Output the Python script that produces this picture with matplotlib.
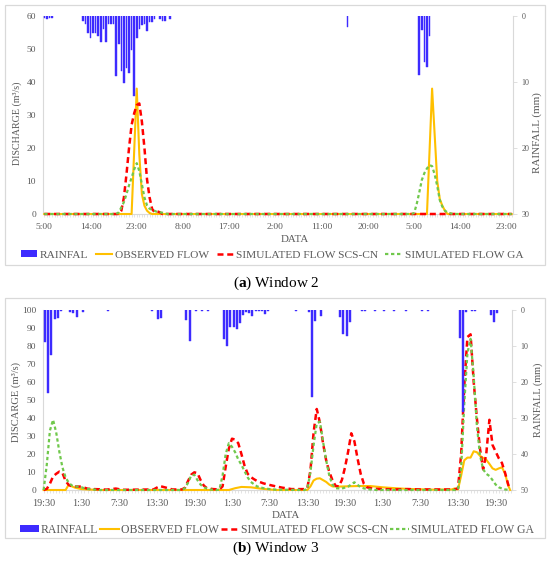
import matplotlib
matplotlib.use('Agg')
import matplotlib.pyplot as plt
from matplotlib.patches import Rectangle, Patch
from matplotlib.lines import Line2D
from matplotlib.ticker import MultipleLocator

plt.rcParams['font.family'] = ['Liberation Serif', 'DejaVu Serif']
plt.rcParams['mathtext.fontset'] = 'custom'
plt.rcParams['mathtext.rm'] = 'Liberation Serif'
plt.rcParams['mathtext.bf'] = 'Liberation Serif:bold'

# ---------------- Window 2 (hours after 5:00 of day 1) ----------------
ticks_a = [0, 9, 18, 27, 36, 45, 54, 63, 72, 81, 90]
labels_a = ['5:00', '14:00', '23:00', '8:00', '17:00', '2:00', '11:00',
            '20:00', '5:00', '14:00', '23:00']

rain_a_t = [0.0, 0.5, 1.0, 1.5,
            7.5, 8.0, 8.5, 9.0, 9.5, 10.0, 10.5, 11.0, 11.5, 12.0, 12.5,
            13.0, 13.5, 14.0, 14.5, 15.0, 15.5, 16.0, 16.5, 17.0, 17.5,
            18.0, 18.5, 19.0, 19.5, 20.0, 20.5, 21.0, 21.5,
            22.5, 23.0, 23.5, 24.5, 59.0,
            73.0, 73.5, 74.0, 74.5, 75.0]
rain_a_mm = [0.3, 0.5, 0.3, 0.3,
             0.8, 1.2, 2.6, 3.4, 2.5, 2.5, 3.0, 3.9, 2.0, 3.9, 1.2,
             1.2, 1.2, 9.1, 4.2, 8.3, 10.1, 7.9, 8.7, 5.2, 12.1,
             3.4, 1.9, 1.4, 1.2, 2.2, 0.9, 0.9, 0.4,
             0.4, 0.7, 0.7, 0.4, 1.6,
             8.9, 2.1, 6.9, 7.7, 3.0]

obs_a_t = [0, 17.0, 18.0, 18.5, 19.0, 19.5, 20.0, 20.5, 21.0,
           74.5, 75.5, 76.0, 76.5, 77.0, 77.5, 78.0, 78.5, 91.0]
obs_a_q = [0, 0, 38, 18, 6, 2.5, 1.0, 0.3, 0,
           0, 38, 24, 10, 4.5, 2.5, 1.0, 0, 0]

scs_a_t = [0, 14.5, 15.0, 15.5, 16.0, 16.5, 17.0, 17.5, 18.0, 18.5, 19.0,
           19.5, 20.0, 20.5, 21.0, 21.5, 22.0, 22.5, 23.0, 91.0]
scs_a_q = [0, 0, 1.0, 5.0, 12, 20, 27, 30.5, 33, 33.5, 28,
           20, 10.5, 5.0, 1.5, 0.5, 0.8, 0.5, 0, 0]

ga_a_t = [0, 14.0, 14.5, 15.0, 15.5, 16.0, 16.5, 17.0, 17.5, 18.0, 18.5,
          19.0, 19.5, 20.0, 20.5, 21.0, 22.0, 23.0, 24.0,
          71.5, 72.0, 72.5, 73.0, 73.5, 74.0, 74.5, 75.0, 75.5, 76.0,
          76.5, 77.0, 77.5, 78.0, 78.5, 79.5, 91.0]
ga_a_q = [0, 0, 0.5, 2.0, 3.6, 6.0, 8.7, 11, 13.5, 15.4, 13,
          9.0, 5.0, 2.6, 1.6, 1.3, 0.6, 0.4, 0,
          0, 0.3, 3.0, 6.5, 10.3, 12.4, 13.8, 14.8, 14.5, 12,
          8.5, 4.2, 2.2, 1.0, 0.5, 0, 0]

# ---------------- Window 3 (hours after 19:30 of day 1) ----------------
ticks_b = [0, 6, 12, 18, 24, 30, 36, 42, 48, 54, 60, 66, 72]
labels_b = ['19:30', '1:30', '7:30', '13:30', '19:30', '1:30', '7:30',
            '13:30', '19:30', '1:30', '7:30', '13:30', '19:30']

rain_b_t = [0.25, 0.75, 1.25, 1.75, 2.25, 2.75, 4.25, 4.75, 5.25, 6.25,
            10.25, 17.25, 18.25, 18.75, 22.75, 23.25, 24.25, 25.25, 26.25,
            28.75, 29.25, 29.75, 30.25, 30.75, 31.25, 31.75, 32.25, 32.75,
            33.25, 33.75, 34.25, 34.75, 35.25, 35.75, 40.25,
            42.25, 42.75, 43.25, 44.25, 47.25, 47.75, 48.25, 48.75,
            50.75, 51.25, 52.75, 54.25, 55.75, 57.75, 60.25, 61.25,
            66.25, 66.75, 67.25, 68.25, 68.75, 71.25, 71.75, 72.25]
rain_b_mm = [9.0, 23.1, 12.5, 2.6, 2.1, 0.4, 0.5, 0.9, 1.9, 0.5,
             0.3, 0.3, 2.6, 2.1, 2.8, 8.5, 0.3, 0.3, 0.3,
             8.1, 10.0, 4.8, 4.8, 5.4, 3.7, 1.4, 0.5, 0.7,
             1.7, 0.4, 0.4, 0.4, 1.2, 0.4, 0.3,
             0.6, 24.1, 3.1, 1.6, 1.9, 6.8, 7.1, 3.4,
             0.3, 0.3, 0.3, 0.3, 0.3, 0.3, 0.3, 0.3,
             7.9, 28.2, 0.6, 0.3, 0.3, 1.4, 3.4, 0.9]

obs_b_t = [0, 3.5, 4.0, 4.5, 5.0, 5.5, 6.0, 7.0, 9.0,
           29.5, 30.5, 31.5, 33.0, 34.5, 36.0, 37.0,
           42.0, 42.5, 43.0, 43.5, 44.0, 44.5, 45.0, 45.5, 46.0, 47.0,
           48.0, 50.0, 52.0, 54.0, 56.0, 58.0, 60.0, 62.0,
           65.0, 65.5, 66.0, 66.5, 67.0, 67.5, 68.0, 68.5, 69.0, 69.5,
           70.0, 70.5, 71.0, 71.5, 72.0, 72.5, 73.0, 73.5, 74.0, 74.3]
obs_b_q = [0, 0, 3.0, 2.0, 1.3, 0.9, 0.5, 0.3, 0,
           0, 1.0, 1.7, 1.5, 0.8, 0.3, 0,
           0, 2.0, 5.3, 6.3, 6.5, 5.5, 4.5, 3.0, 2.0, 1.9,
           2.0, 2.2, 2.2, 1.5, 1.0, 0.6, 0.4, 0.2,
           0.3, 0.9, 0.3, 8.0, 16.5, 18, 18, 21.5, 21, 19,
           17.8, 16.8, 14.5, 12, 11.2, 12, 12.6, 9.0, 2.5, 0]

scs_b_t = [0, 0.5, 1.0, 1.5, 2.0, 2.5, 3.0, 3.5, 4.0, 4.5, 5.0, 6.0, 6.5,
           7.0, 8.0, 9.0, 10.0, 11.5, 12.5, 17.5, 18.5, 19.5, 20.5, 22.0,
           22.5, 23.0, 23.5, 24.0, 24.5, 25.0, 25.5, 26.0, 27.0, 28.0,
           28.5, 29.0, 29.5, 30.0, 30.5, 31.0, 31.5, 32.0, 32.5, 33.0,
           33.5, 34.0, 35.0, 36.0, 37.0, 38.0, 39.5, 41.5,
           42.0, 42.5, 43.0, 43.5, 44.0, 44.5, 45.0, 45.5, 46.0, 46.5,
           47.0, 47.5, 48.0, 48.5, 49.0, 49.5, 50.0, 50.5, 51.0, 51.5,
           52.5, 54.0, 56.0, 58.0, 60.0, 62.0, 65.5,
           66.0, 66.5, 67.0, 67.5, 68.0, 68.5, 69.0, 69.5, 70.0, 70.5,
           71.0, 71.5, 72.0, 72.5, 73.0, 73.5, 74.0, 74.3]
scs_b_q = [0, 0.6, 3.5, 7.5, 9.0, 10.2, 9.5, 5.0, 2.8, 2.0, 1.9, 1.9, 1.3,
           0.7, 0.5, 0.4, 0.2, 0.8, 0.1, 0.3, 2.2, 1.3, 0.3, 0.3,
           1.2, 5.0, 8.5, 9.8, 9.4, 5.5, 2.5, 1.0, 0.5, 0.3,
           2.0, 13, 23, 28.5, 28, 26, 20, 13.5, 9.0, 7.2,
           6.0, 5.0, 3.7, 2.8, 2.0, 1.3, 0.5, 0.5,
           1.0, 11, 32, 45, 37.5, 26, 16.5, 10, 5.5, 2.3,
           2.0, 5.5, 12.5, 21.3, 31.5, 27, 17.5, 9.0, 3.5, 1.5,
           0.7, 0.5, 0.3, 0.5, 0.3, 0.3, 0.3,
           1.0, 20, 58, 85, 86.5, 60, 40, 23, 11.5, 20,
           39, 25, 21.3, 17.6, 15, 9.5, 3.0, 0.5]

ga_b_t = [0, 0.5, 1.0, 1.5, 2.0, 2.5, 3.0, 3.5, 4.0, 4.5, 5.0, 5.5, 6.0,
          6.5, 7.5, 9.0, 22.0, 22.5, 23.0, 23.5, 24.0, 24.5, 25.0, 25.5,
          26.5, 27.5, 28.0, 28.5, 29.0, 29.5, 30.0, 30.5, 31.0, 31.5,
          32.0, 32.5, 33.0, 33.5, 34.0, 35.0, 36.0, 37.0, 41.5,
          42.0, 42.5, 43.0, 43.5, 44.0, 44.5, 45.0, 45.5, 46.0, 46.5,
          47.5, 48.5, 49.5, 50.5, 51.0, 52.0, 53.0, 65.5,
          66.0, 66.5, 67.0, 67.5, 68.0, 68.5, 69.0, 69.5, 70.0, 70.5,
          71.0, 71.5, 72.0, 72.5, 73.0, 73.5, 74.3]
ga_b_q = [0, 14, 33, 39, 32, 21.3, 12.5, 7.0, 4.0, 2.5, 1.9, 1.9, 1.6,
          0.9, 0.4, 0, 0, 1.0, 4.0, 8.0, 8.5, 5.5, 3.0, 1.5,
          0.3, 0, 0.2, 8.0, 20, 26, 24, 21, 17, 14,
          10.5, 7.0, 4.5, 3.2, 2.0, 1.0, 0.5, 0.2, 0,
          0.5, 10, 25, 37, 38, 27, 16.5, 8.0, 3.0, 1.0,
          0.8, 1.9, 4.3, 1.5, 0.9, 0.3, 0, 0,
          0.5, 12, 48, 76, 84, 63, 36, 19.4, 11.5, 9.0,
          7.8, 5.5, 3.0, 1.5, 0.8, 0.3, 0]

# ---------------- styling ----------------
GREY = '#595959'
AXIS = '#D9D9D9'
BLUE = '#3D2BFF'
ORANGE = '#FFC000'
RED = '#FF0000'
GREEN = '#70C84C'
W, H = 550, 566


def px_box(x0, y0, x1, y1):
    '''pixel box (top-left origin) -> figure fraction rect'''
    return [x0 / W, 1 - y1 / H, (x1 - x0) / W, (y1 - y0) / H]


def draw_window(fig, box, rain_t, rain_mm, obs, scs, ga, xlim, qmax, qstep,
                rmax, rstep, ticks, labels, bar_w, xfs):
    ax = fig.add_axes(px_box(*box))
    ax.plot(obs[0], obs[1], color=ORANGE, lw=1.5, zorder=3, clip_on=False)
    ax.plot(scs[0], scs[1], color=RED, lw=1.8, dashes=(2.4, 1.5), zorder=4,
            clip_on=False)
    ax.plot(ga[0], ga[1], color=GREEN, lw=1.6, dashes=(1.5, 1.2), zorder=5,
            clip_on=False)
    ax.set_xlim(*xlim)
    ax.set_ylim(0, qmax)
    ax.set_yticks(range(0, qmax + 1, qstep))
    ax.set_xticks(ticks)
    ax.set_xticklabels(labels)
    ax.xaxis.set_minor_locator(MultipleLocator(0.5))
    ax.tick_params(axis='x', which='both', length=2.2, width=0.5,
                   color=AXIS, labelsize=xfs, labelcolor=GREY, pad=4)
    ax.tick_params(axis='y', length=0, labelsize=6.8, labelcolor=GREY, pad=5)
    for s in ['top', 'right']:
        ax.spines[s].set_visible(False)
    for s in ['left', 'bottom']:
        ax.spines[s].set_color(AXIS)
        ax.spines[s].set_linewidth(0.8)

    # rainfall hanging from the top on an inverted secondary axis
    ax2 = ax.twinx()
    ax2.bar(rain_t, rain_mm, width=bar_w, color=BLUE, edgecolor=BLUE,
            linewidth=0.3)
    ax2.set_ylim(rmax, 0)
    ax2.set_yticks(range(0, rmax + 1, rstep))
    ax2.tick_params(axis='y', length=3, width=0.6, color=AXIS,
                    labelsize=5.8, labelcolor=GREY, pad=3)
    for s in ['top', 'left', 'bottom']:
        ax2.spines[s].set_visible(False)
    ax2.spines['right'].set_color(AXIS)
    ax2.spines['right'].set_linewidth(0.8)
    return ax, ax2


fig = plt.figure(figsize=(W / 100, H / 100), dpi=100)

# panel frames
for y0, y1 in [(5, 265), (298, 538)]:
    fig.patches.append(Rectangle((5 / W, 1 - y1 / H), 540 / W, (y1 - y0) / H,
                                 transform=fig.transFigure, fill=False,
                                 edgecolor=AXIS, linewidth=0.9))

draw_window(fig, (43, 16, 513, 214), rain_a_t, rain_a_mm,
            (obs_a_t, obs_a_q), (scs_a_t, scs_a_q), (ga_a_t, ga_a_q),
            (-0.25, 91.25), 60, 10, 30, 10, ticks_a, labels_a, 0.3, 6.8)
draw_window(fig, (43, 310, 512, 490), rain_b_t, rain_b_mm,
            (obs_b_t, obs_b_q), (scs_b_t, scs_b_q), (ga_b_t, ga_b_q),
            (-0.1, 74.6), 100, 10, 50, 10, ticks_b, labels_b, 0.32, 7.3)

def ftext(x, y, s, **kw):
    fig.text(x / W, 1 - y / H, s, ha='center', va='center', **kw)

# axis titles
ftext(17, 123, 'DISCHARGE (m³/s)', rotation=90, color=GREY, fontsize=7.2)
ftext(537, 133, 'RAINFALL (mm)', rotation=90, color=GREY, fontsize=8)
ftext(295, 239, 'DATA', color=GREY, fontsize=7.8)
ftext(16, 402, 'DISCARGE (m³/s)', rotation=90, color=GREY, fontsize=7.6)
ftext(538, 400, 'RAINFALL (mm)', rotation=90, color=GREY, fontsize=7.4)
ftext(286, 515, 'DATA', color=GREY, fontsize=7.8)

# legends
def legend_at(x, y, rain_label, fs, hlen, pad, colsp):
    handles = [Patch(facecolor=BLUE, edgecolor='none'),
               Line2D([], [], color=ORANGE, lw=1.5),
               Line2D([], [], color=RED, lw=1.8, dashes=(2.4, 1.5)),
               Line2D([], [], color=GREEN, lw=1.6, dashes=(1.5, 1.2))]
    names = [rain_label, 'OBSERVED FLOW', 'SIMULATED FLOW SCS-CN',
             'SIMULATED FLOW GA']
    fig.legend(handles, names, loc='center', bbox_to_anchor=(x / W, 1 - y / H),
               ncol=4, frameon=False, fontsize=fs, labelcolor=GREY,
               handlelength=hlen, handleheight=0.55, handletextpad=pad,
               columnspacing=colsp, borderaxespad=0)

legend_at(272, 255, 'RAINFAL', 8.2, 1.45, 0.25, 0.65)
legend_at(277, 530, 'RAINFALL', 8.5, 1.6, 0.15, 0.15)

# captions
ftext(276, 283, r'($\mathbf{a}$) Window 2', color='black', fontsize=11)
ftext(276, 548, r'($\mathbf{b}$) Window 3', color='black', fontsize=11)

fig.savefig('out.png', dpi=100, facecolor='white')
